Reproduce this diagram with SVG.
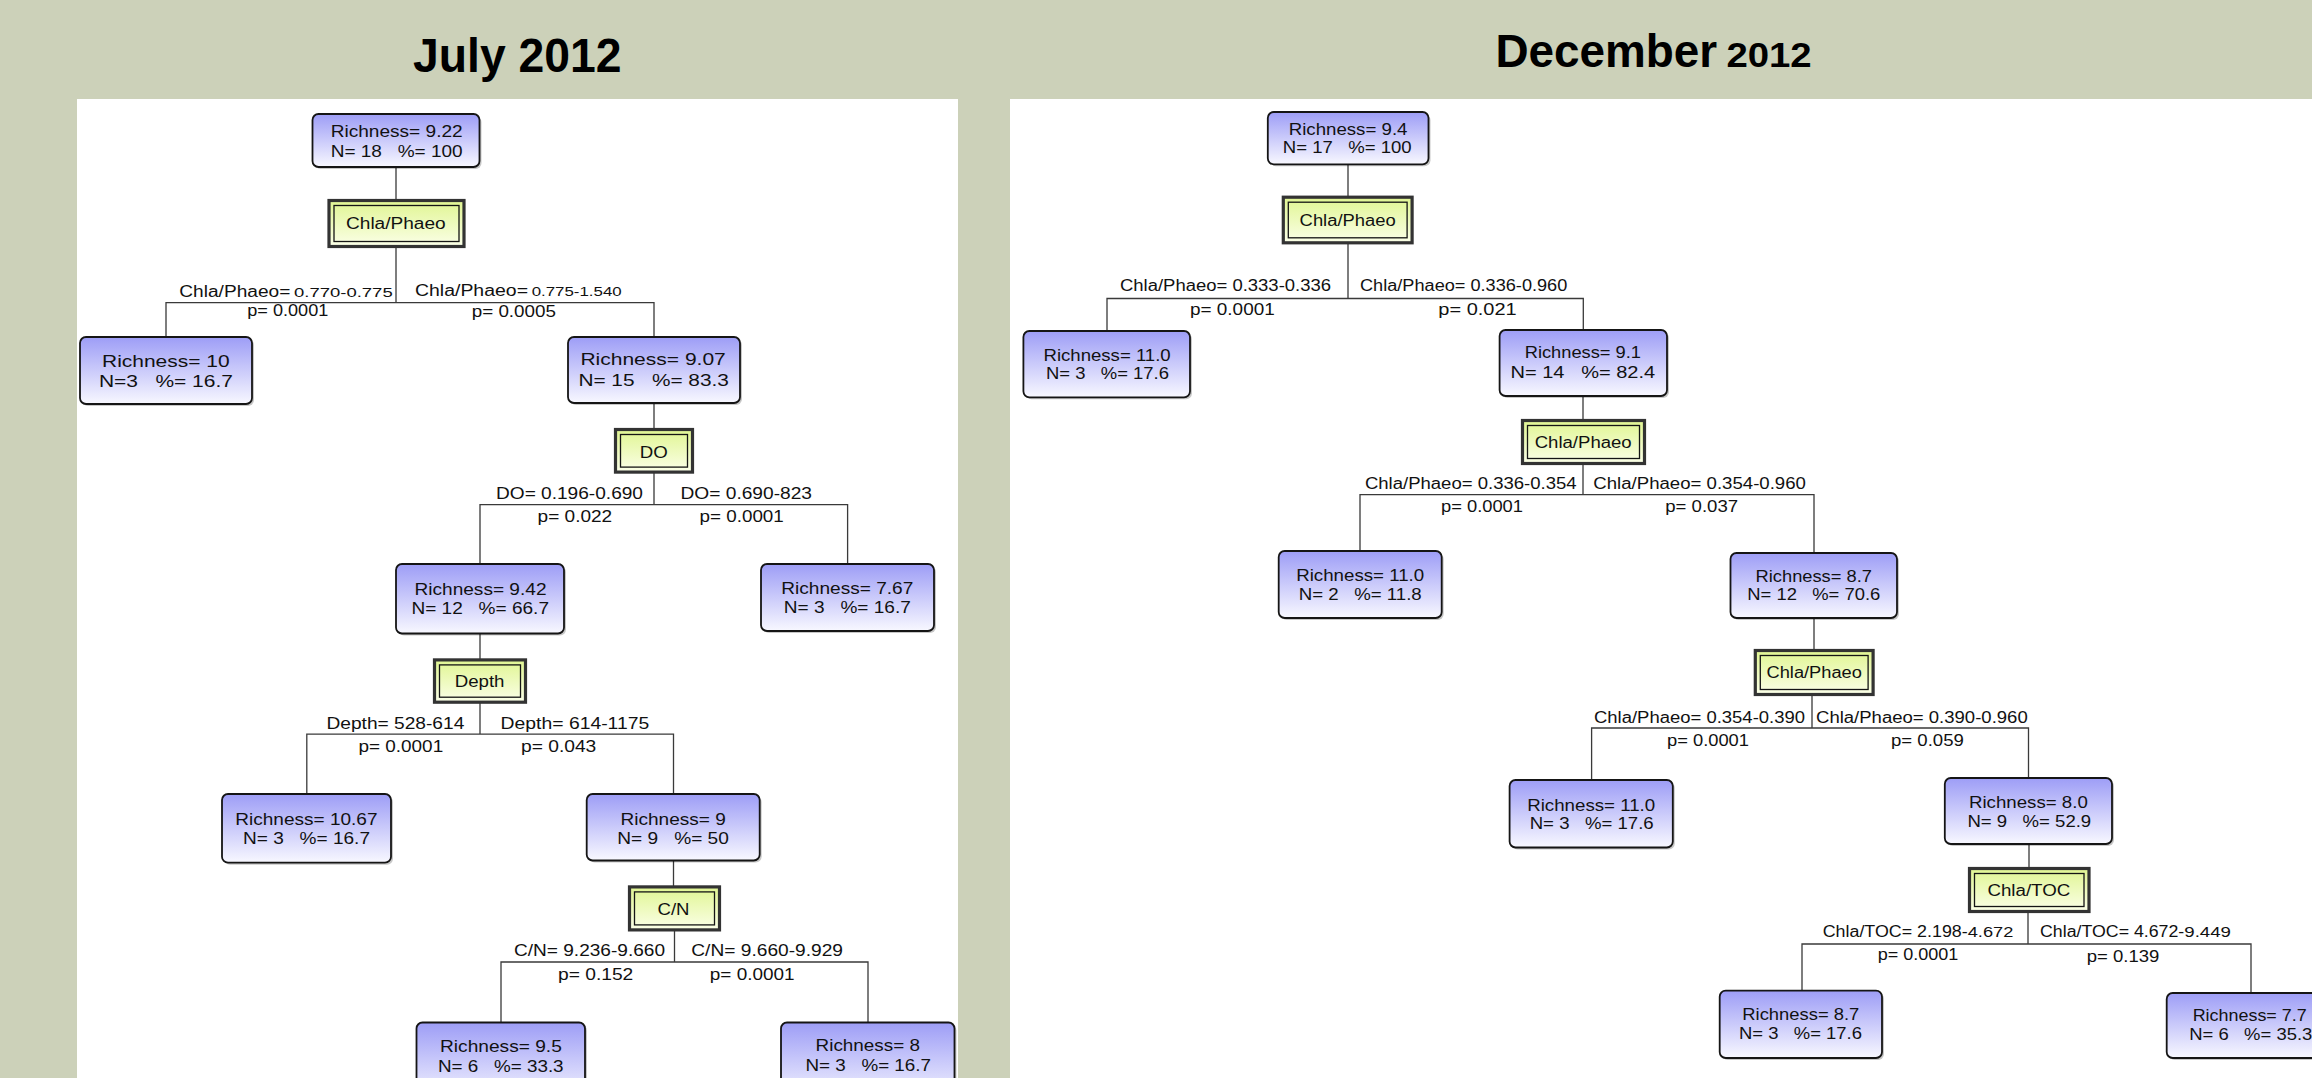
<svg xmlns="http://www.w3.org/2000/svg" width="2312" height="1078" viewBox="0 0 2312 1078">
<style>
.t{font-family:"Liberation Sans",Arial,sans-serif;fill:#111;white-space:pre}
.title{font-family:"Liberation Sans",Arial,sans-serif;font-weight:bold;fill:#000}
.leaf{fill:url(#gNode);stroke:#151515;stroke-width:1.8}
.shadow{fill:#000;opacity:0.22}
.sp{fill:url(#gSplit);stroke:#333;stroke-width:3.2}
.spin{fill:none;stroke:#151515;stroke-width:1.3}
.conn{fill:none;stroke:#3a3a3a;stroke-width:1.3}
.n1{font-size:16.5px}
.n2{font-size:17.3px}
.lab{font-size:15.6px}
.sm{font-size:12.5px}
.sm2{font-size:14px}
.p{font-size:16.3px}
.d{font-size:16px}
</style>
<defs>
<linearGradient id="gNode" x1="0" y1="0" x2="0" y2="1">
<stop offset="0" stop-color="#9d9df6"/>
<stop offset="1" stop-color="#f8f8ff"/>
</linearGradient>
<linearGradient id="gSplit" x1="0" y1="0" x2="0" y2="1">
<stop offset="0" stop-color="#e0f592"/>
<stop offset="1" stop-color="#fbffe8"/>
</linearGradient>
</defs>
<rect x="0" y="0" width="2312" height="1078" fill="#ccd1b9"/>
<rect x="77" y="99" width="881" height="979" fill="#ffffff"/>
<rect x="1010" y="99" width="1302" height="979" fill="#ffffff"/>
<text class="title" x="413" y="71.7" font-size="49" textLength="208.5" lengthAdjust="spacingAndGlyphs">July 2012</text>
<text class="title" x="1495.4" y="66.7" font-size="46.6" textLength="221.8" lengthAdjust="spacingAndGlyphs">December</text>
<text class="title" x="1726.4" y="66.7" font-size="35" textLength="85.3" lengthAdjust="spacingAndGlyphs">2012</text>

<g id="connectors">
<path class="conn" d="M396 167V200M396 247V302.7M166 337V302.7H654V337M654 403V429M654 472.6V504.6M480 564V504.6H847.6V564M480 633.5V659.4M480 702.7V734.2M306.8 794V734.2H673.5V794M673.5 860.5V886.4M674.5 930.5V962M501 1022.5V962H868V1022.5"/>
<path class="conn" d="M1348 164.3V196.7M1348 243.3V298.5M1107 331V298.5H1583.3V330M1583 396V420M1583 464V494.7M1360 551V494.7H1814V553M1814 618V650M1812 695V728M1591.6 780V728H2028.5V778M2029 844V868M2028 912V944M1802 990.7V944H2251V993"/>
</g>

<g id="edge-labels">
<text class="t lab" x="179.3" y="297" textLength="111" lengthAdjust="spacingAndGlyphs">Chla/Phaeo=</text>
<text class="t sm" x="294" y="297" textLength="98.7" lengthAdjust="spacingAndGlyphs">0.770-0.775</text>
<text class="t lab" x="415" y="296" textLength="113" lengthAdjust="spacingAndGlyphs">Chla/Phaeo=</text>
<text class="t sm" x="531.7" y="296" textLength="90" lengthAdjust="spacingAndGlyphs">0.775-1.540</text>
<text class="t p" x="247.3" y="316" textLength="81" lengthAdjust="spacingAndGlyphs">p= 0.0001</text>
<text class="t p" x="471.7" y="317" textLength="84.3" lengthAdjust="spacingAndGlyphs">p= 0.0005</text>

<text class="t lab" x="496" y="498.6" textLength="147" lengthAdjust="spacingAndGlyphs">DO= 0.196-0.690</text>
<text class="t lab" x="680.5" y="498.6" textLength="131.5" lengthAdjust="spacingAndGlyphs">DO= 0.690-823</text>
<text class="t p" x="537.6" y="522.4" textLength="74.6" lengthAdjust="spacingAndGlyphs">p= 0.022</text>
<text class="t p" x="699.6" y="522.4" textLength="84.2" lengthAdjust="spacingAndGlyphs">p= 0.0001</text>

<text class="t lab" x="326.5" y="728.6" textLength="137.8" lengthAdjust="spacingAndGlyphs">Depth= 528-614</text>
<text class="t lab" x="500.6" y="728.6" textLength="148.6" lengthAdjust="spacingAndGlyphs">Depth= 614-1175</text>
<text class="t p" x="358.4" y="752.4" textLength="84.8" lengthAdjust="spacingAndGlyphs">p= 0.0001</text>
<text class="t p" x="521" y="752.4" textLength="75.3" lengthAdjust="spacingAndGlyphs">p= 0.043</text>

<text class="t lab" x="514" y="956" textLength="151" lengthAdjust="spacingAndGlyphs">C/N= 9.236-9.660</text>
<text class="t lab" x="691.3" y="956" textLength="151.7" lengthAdjust="spacingAndGlyphs">C/N= 9.660-9.929</text>
<text class="t p" x="558" y="980.3" textLength="75.3" lengthAdjust="spacingAndGlyphs">p= 0.152</text>
<text class="t p" x="709.8" y="980.3" textLength="84.8" lengthAdjust="spacingAndGlyphs">p= 0.0001</text>

<text class="t lab" x="1120" y="291.3" textLength="211" lengthAdjust="spacingAndGlyphs">Chla/Phaeo= 0.333-0.336</text>
<text class="t lab" x="1360" y="291.3" textLength="207.3" lengthAdjust="spacingAndGlyphs">Chla/Phaeo= 0.336-0.960</text>
<text class="t p" x="1190" y="314.7" textLength="84.7" lengthAdjust="spacingAndGlyphs">p= 0.0001</text>
<text class="t p" x="1438.3" y="314.7" textLength="78.4" lengthAdjust="spacingAndGlyphs">p= 0.021</text>

<text class="t lab" x="1364.9" y="488.6" textLength="211.7" lengthAdjust="spacingAndGlyphs">Chla/Phaeo= 0.336-0.354</text>
<text class="t lab" x="1593.3" y="488.6" textLength="212.6" lengthAdjust="spacingAndGlyphs">Chla/Phaeo= 0.354-0.960</text>
<text class="t p" x="1441" y="512.4" textLength="82" lengthAdjust="spacingAndGlyphs">p= 0.0001</text>
<text class="t p" x="1665.3" y="512.4" textLength="72.8" lengthAdjust="spacingAndGlyphs">p= 0.037</text>

<text class="t lab" x="1594" y="723.2" textLength="211" lengthAdjust="spacingAndGlyphs">Chla/Phaeo= 0.354-0.390</text>
<text class="t lab" x="1816" y="723" textLength="211.7" lengthAdjust="spacingAndGlyphs">Chla/Phaeo= 0.390-0.960</text>
<text class="t p" x="1667" y="746" textLength="82" lengthAdjust="spacingAndGlyphs">p= 0.0001</text>
<text class="t p" x="1891" y="746" textLength="72.8" lengthAdjust="spacingAndGlyphs">p= 0.059</text>

<text class="t lab" x="1822.7" y="937.3" textLength="145" lengthAdjust="spacingAndGlyphs">Chla/TOC= 2.198-</text>
<text class="t sm2" x="1967.7" y="937.3" textLength="45.6" lengthAdjust="spacingAndGlyphs">4.672</text>
<text class="t lab" x="2040" y="937.3" textLength="144.3" lengthAdjust="spacingAndGlyphs">Chla/TOC= 4.672-</text>
<text class="t sm2" x="2184.3" y="937.3" textLength="46.7" lengthAdjust="spacingAndGlyphs">9.449</text>
<text class="t p" x="1877.7" y="960" textLength="80.6" lengthAdjust="spacingAndGlyphs">p= 0.0001</text>
<text class="t p" x="2086.7" y="962.3" textLength="72.6" lengthAdjust="spacingAndGlyphs">p= 0.139</text>
</g>

<!-- July nodes -->
<g id="jul-root">
<rect class="shadow" x="314.5" y="116" width="167" height="53" rx="6"/>
<rect class="leaf" x="312.5" y="114" width="167" height="53" rx="6"/>
<text class="t n1" x="330.7" y="137.3" textLength="132" lengthAdjust="spacingAndGlyphs">Richness= 9.22</text>
<text class="t n1" x="330.7" y="156.7" textLength="132" lengthAdjust="spacingAndGlyphs">N= 18   %= 100</text>
</g>
<g id="jul-split-chlaphaeo">
<rect class="sp" x="329" y="200.5" width="135" height="46"/>
<rect class="spin" x="334" y="205.5" width="125" height="36"/>
<text class="t d" x="346" y="229" textLength="99.7" lengthAdjust="spacingAndGlyphs">Chla/Phaeo</text>
</g>
<g id="jul-leaf-10">
<rect class="shadow" x="82" y="339" width="172" height="67" rx="6"/>
<rect class="leaf" x="80" y="337" width="172" height="67" rx="6"/>
<text class="t n2" x="102" y="366.7" textLength="127.6" lengthAdjust="spacingAndGlyphs">Richness= 10</text>
<text class="t n2" x="98.9" y="387.3" textLength="134" lengthAdjust="spacingAndGlyphs">N=3   %= 16.7</text>
</g>
<g id="jul-node-907">
<rect class="shadow" x="570" y="339" width="172" height="66" rx="6"/>
<rect class="leaf" x="568" y="337" width="172" height="66" rx="6"/>
<text class="t n2" x="580.4" y="365" textLength="145.4" lengthAdjust="spacingAndGlyphs">Richness= 9.07</text>
<text class="t n2" x="578.4" y="386" textLength="150.5" lengthAdjust="spacingAndGlyphs">N= 15   %= 83.3</text>
</g>
<g id="jul-split-do">
<rect class="sp" x="615.5" y="429.5" width="77" height="42.6"/>
<rect class="spin" x="620.5" y="434.5" width="67" height="32.6"/>
<text class="t d" x="639.7" y="457.5" textLength="28" lengthAdjust="spacingAndGlyphs">DO</text>
</g>
<g id="jul-node-942">
<rect class="shadow" x="398" y="566" width="168" height="69.5" rx="6"/>
<rect class="leaf" x="396" y="564" width="168" height="69.5" rx="6"/>
<text class="t n2" x="414.5" y="595.4" textLength="132" lengthAdjust="spacingAndGlyphs">Richness= 9.42</text>
<text class="t n2" x="411.4" y="614" textLength="137.6" lengthAdjust="spacingAndGlyphs">N= 12   %= 66.7</text>
</g>
<g id="jul-leaf-767">
<rect class="shadow" x="763" y="566" width="173" height="67" rx="6"/>
<rect class="leaf" x="761" y="564" width="173" height="67" rx="6"/>
<text class="t n2" x="781.3" y="593.7" textLength="132" lengthAdjust="spacingAndGlyphs">Richness= 7.67</text>
<text class="t n2" x="783.8" y="612.7" textLength="127" lengthAdjust="spacingAndGlyphs">N= 3   %= 16.7</text>
</g>
<g id="jul-split-depth">
<rect class="sp" x="434.5" y="659.9" width="91" height="42.3"/>
<rect class="spin" x="439.5" y="664.9" width="81" height="32.3"/>
<text class="t d" x="454.7" y="686.7" textLength="49.8" lengthAdjust="spacingAndGlyphs">Depth</text>
</g>
<g id="jul-leaf-1067">
<rect class="shadow" x="224" y="796" width="169" height="68.7" rx="6"/>
<rect class="leaf" x="222" y="794" width="169" height="68.7" rx="6"/>
<text class="t n2" x="235.3" y="825" textLength="142.2" lengthAdjust="spacingAndGlyphs">Richness= 10.67</text>
<text class="t n2" x="243" y="844" textLength="127" lengthAdjust="spacingAndGlyphs">N= 3   %= 16.7</text>
</g>
<g id="jul-node-9">
<rect class="shadow" x="588.7" y="796" width="173" height="66.5" rx="6"/>
<rect class="leaf" x="586.7" y="794" width="173" height="66.5" rx="6"/>
<text class="t n2" x="620.5" y="824.6" textLength="105.3" lengthAdjust="spacingAndGlyphs">Richness= 9</text>
<text class="t n2" x="617.3" y="843.6" textLength="111.6" lengthAdjust="spacingAndGlyphs">N= 9   %= 50</text>
</g>
<g id="jul-split-cn">
<rect class="sp" x="629.5" y="886.9" width="90" height="43"/>
<rect class="spin" x="634.5" y="891.9" width="80" height="33"/>
<text class="t d" x="657.5" y="914.5" textLength="32" lengthAdjust="spacingAndGlyphs">C/N</text>
</g>
<g id="jul-leaf-95">
<rect class="shadow" x="418.5" y="1024.5" width="168.5" height="80" rx="6"/>
<rect class="leaf" x="416.5" y="1022.5" width="168.5" height="80" rx="6"/>
<text class="t n2" x="440" y="1052" textLength="121.8" lengthAdjust="spacingAndGlyphs">Richness= 9.5</text>
<text class="t n2" x="438" y="1071.5" textLength="125.6" lengthAdjust="spacingAndGlyphs">N= 6   %= 33.3</text>
</g>
<g id="jul-leaf-8">
<rect class="shadow" x="783" y="1024.5" width="173.5" height="80" rx="6"/>
<rect class="leaf" x="781" y="1022.5" width="173.5" height="80" rx="6"/>
<text class="t n2" x="815.6" y="1051" textLength="104.4" lengthAdjust="spacingAndGlyphs">Richness= 8</text>
<text class="t n2" x="805.5" y="1070.5" textLength="125.5" lengthAdjust="spacingAndGlyphs">N= 3   %= 16.7</text>
</g>

<!-- December nodes -->
<g id="dec-root">
<rect class="shadow" x="1269.8" y="114" width="160.7" height="52.3" rx="6"/>
<rect class="leaf" x="1267.8" y="112" width="160.7" height="52.3" rx="6"/>
<text class="t n1" x="1288.7" y="135" textLength="118.8" lengthAdjust="spacingAndGlyphs">Richness= 9.4</text>
<text class="t n1" x="1282.8" y="153.3" textLength="128.9" lengthAdjust="spacingAndGlyphs">N= 17   %= 100</text>
</g>
<g id="dec-split-1">
<rect class="sp" x="1283.3" y="197.2" width="128.8" height="45.6"/>
<rect class="spin" x="1288.3" y="202.2" width="118.8" height="35.6"/>
<text class="t d" x="1299.6" y="226" textLength="96.2" lengthAdjust="spacingAndGlyphs">Chla/Phaeo</text>
</g>
<g id="dec-leaf-a">
<rect class="shadow" x="1025.4" y="333" width="166.6" height="66.3" rx="6"/>
<rect class="leaf" x="1023.4" y="331" width="166.6" height="66.3" rx="6"/>
<text class="t n2" x="1043.5" y="360.7" textLength="127.2" lengthAdjust="spacingAndGlyphs">Richness= 11.0</text>
<text class="t n2" x="1046" y="379" textLength="123" lengthAdjust="spacingAndGlyphs">N= 3   %= 17.6</text>
</g>
<g id="dec-node-91">
<rect class="shadow" x="1501.6" y="332" width="167.4" height="66" rx="6"/>
<rect class="leaf" x="1499.6" y="330" width="167.4" height="66" rx="6"/>
<text class="t n2" x="1524.7" y="358.3" textLength="116.3" lengthAdjust="spacingAndGlyphs">Richness= 9.1</text>
<text class="t n2" x="1510.5" y="378.3" textLength="144.7" lengthAdjust="spacingAndGlyphs">N= 14   %= 82.4</text>
</g>
<g id="dec-split-2">
<rect class="sp" x="1522.5" y="420.5" width="122" height="43"/>
<rect class="spin" x="1527.5" y="425.5" width="112" height="33"/>
<text class="t d" x="1534.7" y="448.4" textLength="97" lengthAdjust="spacingAndGlyphs">Chla/Phaeo</text>
</g>
<g id="dec-leaf-b">
<rect class="shadow" x="1280.7" y="553" width="163" height="67" rx="6"/>
<rect class="leaf" x="1278.7" y="551" width="163" height="67" rx="6"/>
<text class="t n2" x="1296.2" y="580.7" textLength="128" lengthAdjust="spacingAndGlyphs">Richness= 11.0</text>
<text class="t n2" x="1298.7" y="599.8" textLength="123" lengthAdjust="spacingAndGlyphs">N= 2   %= 11.8</text>
</g>
<g id="dec-node-87">
<rect class="shadow" x="1732.5" y="555" width="166.5" height="65" rx="6"/>
<rect class="leaf" x="1730.5" y="553" width="166.5" height="65" rx="6"/>
<text class="t n2" x="1755.6" y="581.6" textLength="116.3" lengthAdjust="spacingAndGlyphs">Richness= 8.7</text>
<text class="t n2" x="1747.3" y="600.2" textLength="133" lengthAdjust="spacingAndGlyphs">N= 12   %= 70.6</text>
</g>
<g id="dec-split-3">
<rect class="sp" x="1755.3" y="650.5" width="117.8" height="44"/>
<rect class="spin" x="1760.3" y="655.5" width="107.8" height="34"/>
<text class="t d" x="1766.5" y="678" textLength="95.4" lengthAdjust="spacingAndGlyphs">Chla/Phaeo</text>
</g>
<g id="dec-leaf-c">
<rect class="shadow" x="1511.6" y="782" width="163.2" height="67.5" rx="6"/>
<rect class="leaf" x="1509.6" y="780" width="163.2" height="67.5" rx="6"/>
<text class="t n2" x="1527.2" y="810.8" textLength="128" lengthAdjust="spacingAndGlyphs">Richness= 11.0</text>
<text class="t n2" x="1529.7" y="829.4" textLength="124" lengthAdjust="spacingAndGlyphs">N= 3   %= 17.6</text>
</g>
<g id="dec-node-80">
<rect class="shadow" x="1946.8" y="780" width="167.2" height="66" rx="6"/>
<rect class="leaf" x="1944.8" y="778" width="167.2" height="66" rx="6"/>
<text class="t n2" x="1969" y="808.2" textLength="118.8" lengthAdjust="spacingAndGlyphs">Richness= 8.0</text>
<text class="t n2" x="1967.4" y="826.8" textLength="123.8" lengthAdjust="spacingAndGlyphs">N= 9   %= 52.9</text>
</g>
<g id="dec-split-toc">
<rect class="sp" x="1969.5" y="868.5" width="119.5" height="43"/>
<rect class="spin" x="1974.5" y="873.5" width="109.5" height="33"/>
<text class="t d" x="1987.4" y="895.5" textLength="82.9" lengthAdjust="spacingAndGlyphs">Chla/TOC</text>
</g>
<g id="dec-leaf-d">
<rect class="shadow" x="1721.7" y="992.7" width="162.3" height="67.3" rx="6"/>
<rect class="leaf" x="1719.7" y="990.7" width="162.3" height="67.3" rx="6"/>
<text class="t n2" x="1742.3" y="1019.6" textLength="117" lengthAdjust="spacingAndGlyphs">Richness= 8.7</text>
<text class="t n2" x="1739" y="1038.6" textLength="123" lengthAdjust="spacingAndGlyphs">N= 3   %= 17.6</text>
</g>
<g id="dec-leaf-e">
<rect class="shadow" x="2168.7" y="995" width="170" height="65" rx="6"/>
<rect class="leaf" x="2166.7" y="993" width="170" height="65" rx="6"/>
<text class="t n2" x="2192.7" y="1021" textLength="114" lengthAdjust="spacingAndGlyphs">Richness= 7.7</text>
<text class="t n2" x="2189.3" y="1040" textLength="123" lengthAdjust="spacingAndGlyphs">N= 6   %= 35.3</text>
</g>
</svg>
